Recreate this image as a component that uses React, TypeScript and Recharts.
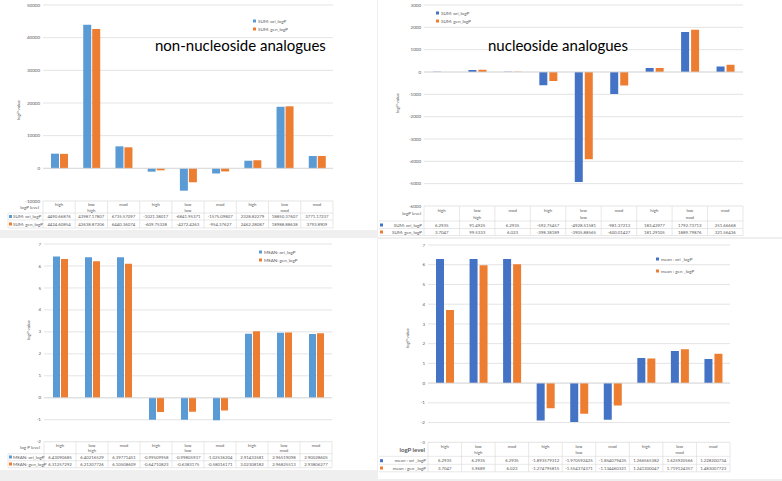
import React from 'react';
import { BarChart, Bar, XAxis, YAxis, CartesianGrid, Legend, ReferenceLine } from 'recharts';

const FONT = 'Lato, "Liberation Sans", sans-serif';
const GRID = '#D9D9D9';
const TXT = '#595959';
const BLUE_L = '#5B9BD5';
const BLUE_D = '#4472C4';
const ORANGE = '#ED7D31';

// category levels (inner) and groups (outer)
const levels = ['high', 'low', 'mod', 'high', 'low', 'mod', 'high', 'low', 'mod'];
const groups = ['high', 'high', 'high', 'low', 'low', 'low', 'mod', 'mod', 'mod'];

// non-nucleoside, SUM
const sumNonOri = [4490.66876, 43987.17807, 6735.57097, -1021.38017, -6841.95371, -1575.09807, 2328.82279, 18850.37607, 3771.17237];
const sumNonGen = [4424.60854, 42638.87206, 6440.36074, -609.75328, -4272.4263, -954.37627, 2462.28087, 18988.88638, 3793.8909];
// nucleoside, SUM
const sumNucOri = [6.2935, 91.4925, 6.2935, -592.75457, -4928.51581, -981.37213, 183.43977, 1792.73713, 251.66668];
const sumNucGen = [3.7047, 99.5333, 6.023, -398.38189, -3905.88565, -600.01427, 181.29105, 1889.79876, 321.56436];
// non-nucleoside, MEAN
const meanNonOri = [6.43090685, 6.40216529, 6.39771451, -0.99509958, -0.99805937, -1.02536204, 2.91433581, 2.96519098, 2.90028605];
const meanNonGen = [6.31257292, 6.21207726, 6.10508609, -0.64710823, -0.6383175, -0.58016171, 3.02308182, 2.96825513, 2.93806277];
// nucleoside, mean
const meanNucOri = [6.2935, 6.2935, 6.2935, -1.893579312, -1.970592425, -1.854079435, 1.266565382, 1.625920566, 1.228200734];
const meanNucGen = [3.7047, 5.9689, 6.023, -1.274795815, -1.554374371, -1.134460321, 1.241300047, 1.719124357, 1.483007723];

const ticksTL = [-10000, 0, 10000, 20000, 30000, 40000, 50000];
const ticksTR = [-6000, -5000, -4000, -3000, -2000, -1000, 0, 1000, 2000, 3000];
const ticksBL = [-2, -1, 0, 1, 2, 3, 4, 5, 6, 7];
const ticksBR = [-3, -2, -1, 0, 1, 2, 3, 4, 5, 6, 7];

type Rows = { cat: number; grp: number; s1: number; s2: number; l1: number; l2: number; l3: number };
type Cfg = {
  px: number; py: number; pw: number; ph: number;
  plotLeft: number; plotRight: number; plotTop: number; plotBottom: number; tableBottom: number;
  domain: [number, number]; ticks: number[];
  ori: number[]; gen: number[]; oriName: string; genName: string;
  blue: string; barSize: number; barGap: number;
  rows: Rows;
  legend: { x: number; y: number; dy: number };
};

const panels: Cfg[] = [
  {
    px: 0, py: 0, pw: 377, ph: 230,
    plotLeft: 43, plotRight: 333, plotTop: 5, plotBottom: 201, tableBottom: 229,
    domain: [-10000, 50000], ticks: ticksTL, ori: sumNonOri, gen: sumNonGen,
    oriName: 'SUM: ori_logP', genName: 'SUM: gen_logP', blue: BLUE_L, barSize: 8, barGap: 1,
    rows: { cat: 3.5, grp: 9.5, s1: 15.5, s2: 23, l1: 12, l2: 19, l3: 27 },
    legend: { x: 254, y: 21, dy: 8 },
  },
  {
    px: 378, py: 0, pw: 404, ph: 237,
    plotLeft: 424, plotRight: 743, plotTop: 5, plotBottom: 206, tableBottom: 236,
    domain: [-6000, 3000], ticks: ticksTR, ori: sumNucOri, gen: sumNucGen,
    oriName: 'SUM: ori_logP', genName: 'SUM: gen_logP', blue: BLUE_D, barSize: 8, barGap: 2,
    rows: { cat: 4, grp: 11, s1: 19, s2: 26, l1: 15, l2: 22.5, l3: 29.5 },
    legend: { x: 437, y: 13, dy: 8 },
  },
  {
    px: 0, py: 238, pw: 377, ph: 232,
    plotLeft: 44, plotRight: 332, plotTop: 244, plotBottom: 441.7, tableBottom: 468,
    domain: [-2, 7], ticks: ticksBL, ori: meanNonOri, gen: meanNonGen,
    oriName: 'MEAN: ori_logP', genName: 'MEAN: gen_logP', blue: BLUE_L, barSize: 7, barGap: 1,
    rows: { cat: 3.5, grp: 9, s1: 15.3, s2: 22.3, l1: 12, l2: 19, l3: 26 },
    legend: { x: 260, y: 252, dy: 8 },
  },
  {
    px: 378, py: 239, pw: 404, ph: 240,
    plotLeft: 428, plotRight: 730, plotTop: 245, plotBottom: 442.3, tableBottom: 472,
    domain: [-3, 7], ticks: ticksBR, ori: meanNucOri, gen: meanNucGen,
    oriName: 'mean : ori _logP', genName: 'mean : gen _logP', blue: BLUE_D, barSize: 8, barGap: 2,
    rows: { cat: 4.4, grp: 9.7, s1: 18.4, s2: 25.7, l1: 14, l2: 22, l3: 29.5 },
    legend: { x: 657, y: 259, dy: 12 },
  },
];

const TableTick = (props: any) => {
  const { x, y, payload, data, band, rows } = props;
  const i = payload.index;
  const d = data[i];
  const l = x - band / 2;
  const r = x + band / 2;
  const t = { fontSize: 4.3, fill: TXT, fontFamily: FONT, textAnchor: 'middle' as const, dominantBaseline: 'central' as const };
  return (
    <g>
      <line x1={l} x2={l} y1={y} y2={y + rows.l3} stroke={GRID} strokeWidth={0.6} />
      {i === data.length - 1 && <line x1={r} x2={r} y1={y} y2={y + rows.l3} stroke={GRID} strokeWidth={0.6} />}
      <line x1={l} x2={r} y1={y + rows.l1} y2={y + rows.l1} stroke={GRID} strokeWidth={0.6} />
      <line x1={l} x2={r} y1={y + rows.l2} y2={y + rows.l2} stroke={GRID} strokeWidth={0.6} />
      <line x1={l} x2={r} y1={y + rows.l3} y2={y + rows.l3} stroke={GRID} strokeWidth={0.6} />
      <text x={x} y={y + rows.cat} {...t}>{d.level}</text>
      {i % 3 === 1 && <text x={x} y={y + rows.grp} {...t}>{d.group}</text>}
      <text x={x} y={y + rows.s1} {...t}>{String(d.ori)}</text>
      <text x={x} y={y + rows.s2} {...t}>{String(d.gen)}</text>
    </g>
  );
};

function Panel({ c }: { c: Cfg }) {
  const data = levels.map((lv, i) => ({ key: groups[i] + '-' + lv, level: lv, group: groups[i], ori: c.ori[i], gen: c.gen[i] }));
  const band = (c.plotRight - c.plotLeft) / data.length;
  const legendItems = [
    { name: c.oriName, color: c.blue },
    { name: c.genName, color: ORANGE },
  ];
  return (
    <div style={{ position: 'absolute', left: c.px, top: c.py, width: c.pw, height: c.ph, background: '#fff' }}>
      <BarChart
        width={c.pw}
        height={c.ph}
        data={data}
        barGap={c.barGap}
        margin={{ top: c.plotTop - c.py, right: c.px + c.pw - c.plotRight, left: 0, bottom: c.py + c.ph - c.tableBottom }}
      >
        <CartesianGrid vertical={false} stroke={GRID} strokeWidth={0.7} />
        <XAxis
          dataKey="key"
          interval={0}
          tickLine={false}
          axisLine={false}
          tickSize={0}
          tickMargin={0}
          height={c.tableBottom - c.plotBottom}
          tick={(p: any) => <TableTick {...p} data={data} band={band} rows={c.rows} />}
        />
        <YAxis
          width={c.plotLeft - c.px}
          domain={c.domain}
          ticks={c.ticks}
          interval={0}
          allowDataOverflow
          axisLine={false}
          tickLine={false}
          tickSize={0}
          tickMargin={3}
          tick={{ fontSize: 4.5, fill: TXT, fontFamily: FONT }}
        />
        <ReferenceLine y={0} stroke={GRID} strokeWidth={0.8} />
        <Legend
          layout="vertical"
          align="center"
          verticalAlign="middle"
          wrapperStyle={{ left: c.legend.x - c.px - 1.5, top: c.legend.y - c.py - 3, width: 80, height: c.legend.dy + 6, bottom: 'auto', right: 'auto' }}
          content={() => (
            <svg width={80} height={c.legend.dy + 6} style={{ display: 'block' }}>
              {legendItems.map((e, i) => (
                <g key={i}>
                  <rect x={0} y={i * c.legend.dy + 1.5} width={3} height={3} fill={e.color} />
                  <text x={5} y={i * c.legend.dy + 3} fontSize={4.5} fill={TXT} fontFamily={FONT} dominantBaseline="central">
                    {e.name}
                  </text>
                </g>
              ))}
            </svg>
          )}
        />
        <Bar dataKey="ori" name={c.oriName} fill={c.blue} barSize={c.barSize} isAnimationActive={false} />
        <Bar dataKey="gen" name={c.genName} fill={ORANGE} barSize={c.barSize} isAnimationActive={false} />
      </BarChart>
    </div>
  );
}

const small = { fontSize: 4.5, fill: TXT, fontFamily: FONT };

export default function App() {
  const [tl, tr, bl, br] = panels;
  return (
    <div style={{ position: 'absolute', left: 0, top: 0, width: 782, height: 481, background: '#EFEFEF', overflow: 'hidden' }}>
      {panels.map((c, i) => (
        <Panel key={i} c={c} />
      ))}
      <svg width={782} height={481} style={{ position: 'absolute', left: 0, top: 0, pointerEvents: 'none' }}>
        {/* titles */}
        <text x={155} y={51} fontSize={15} fill="#000" fontFamily={FONT}>non-nucleoside analogues</text>
        <text x={488} y={51} fontSize={15} fill="#000" fontFamily={FONT}>nucleoside analogues</text>

        {/* y axis titles */}
        <text x={20} y={110} transform="rotate(-90 20 110)" textAnchor="middle" {...small}>logP value</text>
        <text x={399} y={103} transform="rotate(-90 399 103)" textAnchor="middle" {...small}>logP value</text>
        <text x={30} y={330} transform="rotate(-90 30 330)" textAnchor="middle" {...small}>logP value</text>
        <text x={409} y={338} transform="rotate(-90 409 338)" textAnchor="middle" {...small}>logP value</text>

        {/* row headers of the data tables */}
        {[tl, bl].map((c, k) => (
          <g key={'l' + k}>
            <line x1={8} x2={c.plotLeft} y1={c.plotBottom + c.rows.l1} y2={c.plotBottom + c.rows.l1} stroke={GRID} strokeWidth={0.6} />
            <line x1={8} x2={c.plotLeft} y1={c.plotBottom + c.rows.l2} y2={c.plotBottom + c.rows.l2} stroke={GRID} strokeWidth={0.6} />
            <line x1={8} x2={c.plotLeft} y1={c.plotBottom + c.rows.l3} y2={c.plotBottom + c.rows.l3} stroke={GRID} strokeWidth={0.6} />
            <line x1={8} x2={8} y1={c.plotBottom + c.rows.l1} y2={c.plotBottom + c.rows.l3} stroke={GRID} strokeWidth={0.6} />
            <text x={c.plotLeft - 4} y={c.plotBottom + (c.rows.cat + c.rows.grp) / 2} textAnchor="end" dominantBaseline="central" {...small}>
              {k === 0 ? 'logP level' : 'log P level'}
            </text>
            <rect x={9} y={c.plotBottom + c.rows.s1 - 1.5} width={3} height={3} fill={c.blue} />
            <text x={13} y={c.plotBottom + c.rows.s1} dominantBaseline="central" {...small}>{c.oriName}</text>
            <rect x={9} y={c.plotBottom + c.rows.s2 - 1.5} width={3} height={3} fill={ORANGE} />
            <text x={13} y={c.plotBottom + c.rows.s2} dominantBaseline="central" {...small}>{c.genName}</text>
          </g>
        ))}
        {[tr, br].map((c, k) => (
          <g key={'r' + k}>
            <line x1={379} x2={c.plotLeft} y1={c.plotBottom + c.rows.l1} y2={c.plotBottom + c.rows.l1} stroke={GRID} strokeWidth={0.6} />
            <line x1={379} x2={c.plotLeft} y1={c.plotBottom + c.rows.l2} y2={c.plotBottom + c.rows.l2} stroke={GRID} strokeWidth={0.6} />
            <line x1={379} x2={c.plotLeft} y1={c.plotBottom + c.rows.l3} y2={c.plotBottom + c.rows.l3} stroke={GRID} strokeWidth={0.6} />
            <text
              x={c.plotLeft - 3}
              y={c.plotBottom + (c.rows.cat + c.rows.grp) / 2}
              textAnchor="end"
              dominantBaseline="central"
              fontSize={k === 1 ? 6 : 4.5}
              fontWeight={k === 1 ? 'bold' : 'normal'}
              fill={TXT}
              fontFamily={FONT}
            >
              logP level
            </text>
            <rect x={380} y={c.plotBottom + c.rows.s1 - 1.5} width={3} height={3} fill={c.blue} />
            <text x={c.plotLeft - 2} y={c.plotBottom + c.rows.s1} textAnchor="end" dominantBaseline="central" {...small}>{c.oriName}</text>
            <rect x={380} y={c.plotBottom + c.rows.s2 - 1.5} width={3} height={3} fill={ORANGE} />
            <text x={c.plotLeft - 2} y={c.plotBottom + c.rows.s2} textAnchor="end" dominantBaseline="central" {...small}>{c.genName}</text>
          </g>
        ))}
      </svg>
    </div>
  );
}
